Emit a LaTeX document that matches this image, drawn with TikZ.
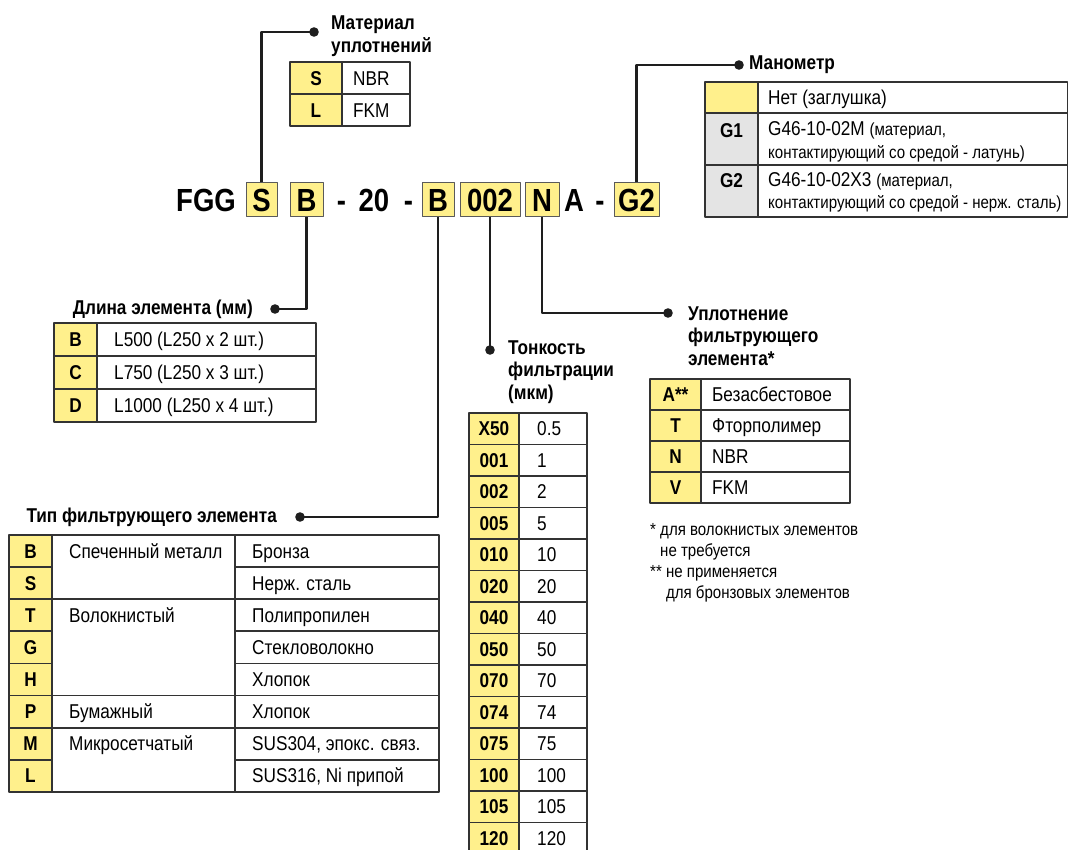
\documentclass[tikz,border=0pt]{standalone}
\usepackage{fontspec}
\setmainfont[FakeStretch=0.86]{Liberation Sans}
\usetikzlibrary{positioning}
\definecolor{fff08c}{rgb}{1.,0.941,0.549}
\definecolor{e4e4e4}{rgb}{0.894,0.894,0.894}
\definecolor{333333}{rgb}{0.2,0.2,0.2}
\definecolor{5a5a5a}{rgb}{0.353,0.353,0.353}
\definecolor{1e1e1e}{rgb}{0.118,0.118,0.118}

\begin{document}
\begin{tikzpicture}[x=1pt,y=-1pt,line join=round,
  kod/.style={draw=5a5a5a,fill=fff08c,line width=1pt,inner sep=0pt,minimum height=34pt,text height=23pt,text depth=0pt,font=\bfseries\fontsize{32}{32}\selectfont},
  kodtxt/.style={inner sep=0pt,text height=23pt,text depth=0pt,font=\bfseries\fontsize{32}{32}\selectfont},
  leit/.style={line width=2.2pt,color=1e1e1e},
  titel/.style={inner sep=0pt,align=left,font=\bfseries\fontsize{20}{22.5}\selectfont},
  zelle/.style={draw=333333,line width=1.8pt},
  schl/.style={inner sep=0pt,anchor=center,text height=14.3pt,text depth=0pt,font=\bfseries\fontsize{20}{20}\selectfont},
  wert/.style={inner sep=0pt,anchor=west,text height=14.3pt,text depth=0pt,font=\fontsize{20}{20}\selectfont},
  wertzwei/.style={inner sep=0pt,anchor=west,align=left,font=\fontsize{20}{22.5}\selectfont}]
\useasboundingbox (0,0) rectangle (1069,850);
\clip (0,0) rectangle (1069,850);

% Bestellschluessel
\node[kodtxt] (fgg) at (206,200) {FGG};
\node[kod,minimum width=31pt] (kS) at (261.5,200) {S};
\node[kod,minimum width=33pt] (kB) at (306.5,200) {B};
\node[kodtxt] (st1) at (341.5,200) {-};
\node[kodtxt] (k20) at (374,200) {20};
\node[kodtxt] (st2) at (408.5,200) {-};
\node[kod,minimum width=32pt] (kB2) at (438,200) {B};
\node[kod,minimum width=60pt] (k002) at (490,200) {002};
\node[kod,minimum width=34pt] (kN) at (542,200) {N};
\node[kodtxt] (kA) at (574,200) {A};
\node[kodtxt] (st3) at (600,200) {-};
\node[kod,minimum width=45pt] (kG2) at (636.5,200) {G2};

% Material uplotnenij
\coordinate (pMat) at (314,32);
\draw[leit] (kS.north) |- (pMat);
\fill[1e1e1e] (pMat) circle (4.8);
\node[titel,anchor=west,font=\bfseries\fontsize{20}{23}\selectfont] (tMat) at (331,36) {Материал\\уплотнений};
\foreach \k/\v [count=\i from 0] in {S/NBR,L/FKM}{
  \draw[zelle,fill=fff08c] (290,{62+\i*32}) rectangle ++(52,32);
  \draw[zelle] (342,{62+\i*32}) rectangle ++(68,32);
  \node[schl] (mk\i) at (316,{62+(\i+0.5)*32}) {\k};
  \node[wert] (mv\i) at (353,{62+(\i+0.5)*32}) {\v};
}

% Manometr
\coordinate (pMan) at (739,65);
\draw[leit] (kG2.north) |- (pMan);
\fill[1e1e1e] (pMan) circle (4.8);
\node[titel,anchor=west] (tMan) at (749,65) {Манометр};
\draw[zelle,fill=fff08c] (705,82) rectangle (758,113);
\draw[zelle,fill=e4e4e4] (705,113) rectangle (758,165);
\draw[zelle,fill=e4e4e4] (705,165) rectangle (758,217);
\draw[zelle] (758,82) rectangle (1067.5,113);
\draw[zelle] (758,113) rectangle (1067.5,165);
\draw[zelle] (758,165) rectangle (1067.5,217);
\node[schl] (gk1) at (731.5,130) {G1};
\node[schl] (gk2) at (731.5,180) {G2};
\node[wert] (gv0) at (768,97.5) {Нет (заглушка)};
\node[wertzwei] (gv1) at (768,142) {G46-10-02M {\fontsize{17.5}{22.5}\selectfont (материал,}\\{\fontsize{17.5}{22.5}\selectfont контактирующий со средой - латунь)}};
\node[wertzwei] (gv2) at (768,192.5) {G46-10-02X3 {\fontsize{17.5}{22.5}\selectfont (материал,}\\{\fontsize{17.5}{22.5}\selectfont контактирующий со средой - нерж. сталь)}};

% Dlina elementa
\coordinate (pDl) at (275,309);
\draw[leit] (kB.south) |- (pDl);
\fill[1e1e1e] (pDl) circle (4.8);
\node[titel,anchor=east] (tDl) at (253,309) {Длина элемента (мм)};
\foreach \k/\v [count=\i from 0] in {B/L500 (L250 x 2 шт.),C/L750 (L250 x 3 шт.),D/L1000 (L250 x 4 шт.)}{
  \draw[zelle,fill=fff08c] (54,{323+\i*33}) rectangle ++(43,33);
  \draw[zelle] (97,{323+\i*33}) rectangle ++(219,33);
  \node[schl] (dk\i) at (75.5,{323+(\i+0.5)*33}) {\k};
  \node[wert] (dv\i) at (114,{323+(\i+0.5)*33}) {\v};
}

% Tonkost filtracii
\coordinate (pTo) at (490,350);
\draw[leit] (k002.south) -- (pTo);
\fill[1e1e1e] (pTo) circle (4.8);
\node[titel,anchor=west] (tTo) at (508,372) {Тонкость\\фильтрации\\(мкм)};
\foreach \k/\v [count=\i from 0] in {X50/0.5,001/1,002/2,005/5,010/10,020/20,040/40,050/50,070/70,074/74,075/75,100/100,105/105,120/120}{
  \draw[zelle,fill=fff08c] (469,{413+\i*31.5}) rectangle ++(50,31.5);
  \draw[zelle] (519,{413+\i*31.5}) rectangle ++(68,31.5);
  \node[schl] (fk\i) at (494,{413+(\i+0.5)*31.5}) {\k};
  \node[wert] (fv\i) at (537,{413+(\i+0.5)*31.5}) {\v};
}

% Uplotnenie filtrujushchego elementa
\coordinate (pUp) at (668,313);
\draw[leit] (kN.south) |- (pUp);
\fill[1e1e1e] (pUp) circle (4.8);
\node[titel,anchor=west] (tUp) at (688,336) {Уплотнение\\фильтрующего\\элемента*};
\foreach \k/\v [count=\i from 0] in {A**/Безасбестовое,T/Фторполимер,N/NBR,V/FKM}{
  \draw[zelle,fill=fff08c] (650,{379+\i*31}) rectangle ++(51,31);
  \draw[zelle] (701,{379+\i*31}) rectangle ++(149,31);
  \node[schl] (uk\i) at (675.5,{379+(\i+0.5)*31}) {\k};
  \node[wert] (uv\i) at (712,{379+(\i+0.5)*31}) {\v};
}
\node[inner sep=0pt,anchor=north west,align=left,font=\fontsize{17.5}{21}\selectfont] (fuss) at (650,523)
  {* для волокнистых элементов\\\phantom{* }не требуется\\** не применяется\\\phantom{** }для бронзовых элементов};

% Tip filtrujushchego elementa
\coordinate (pTi) at (300,517);
\draw[leit] (kB2.south) |- (pTi);
\fill[1e1e1e] (pTi) circle (4.8);
\node[titel,anchor=east] (tTi) at (277,517) {Тип фильтрующего элемента};
\foreach \k/\v [count=\i from 0] in {B/Бронза,S/Нерж. сталь,T/Полипропилен,G/Стекловолокно,H/Хлопок,P/Хлопок,M/{SUS304, эпокс. связ.},L/{SUS316, Ni припой}}{
  \draw[zelle,fill=fff08c] (9,{535+\i*32.1}) rectangle ++(43,32.1);
  \draw[zelle] (235,{535+\i*32.1}) rectangle ++(204,32.1);
  \node[schl] (tk\i) at (30.5,{535+(\i+0.5)*32.1}) {\k};
  \node[wert] (tv\i) at (252,{535+(\i+0.5)*32.1}) {\v};
}
\foreach \a/\n/\t in {0/2/Спеченный металл,2/3/Волокнистый,5/1/Бумажный,6/2/Микросетчатый}{
  \draw[zelle] (52,{535+\a*32.1}) rectangle ++(183,{\n*32.1});
  \node[wert] (tm\a) at (69,{535+(\a+0.5)*32.1}) {\t};
}
\end{tikzpicture}
\end{document}
